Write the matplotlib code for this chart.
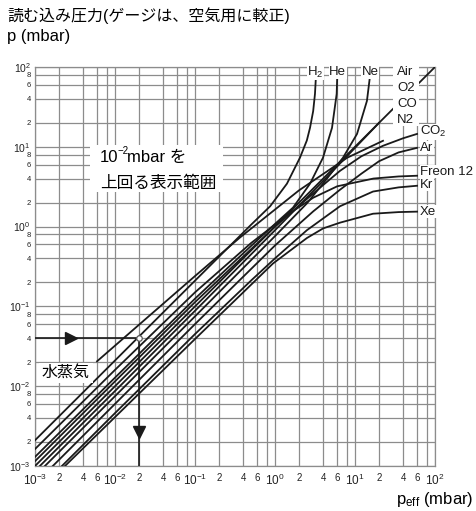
import matplotlib
matplotlib.use("Agg")
import matplotlib.pyplot as plt
import matplotlib.transforms as mtransforms
from matplotlib.patches import Rectangle
from matplotlib.ticker import NullLocator

plt.rcParams['font.family'] = ['Liberation Sans', 'Noto Sans CJK JP']
plt.rcParams['mathtext.fontset'] = 'custom'
plt.rcParams['mathtext.rm'] = 'Liberation Sans'
plt.rcParams['mathtext.it'] = 'Liberation Sans:italic'
plt.rcParams['mathtext.bf'] = 'Liberation Sans:bold'

# effective pressure (mbar) vs. reading of an air-calibrated gauge (mbar)
h2_eff = [1e-3, 1e-2, 1e-1, 0.5, 0.87, 1.41, 2.05, 2.5, 2.74, 3.0, 3.16, 3.25]
h2_ind = [2.1e-3, 2.1e-2, 0.21, 1.05, 1.8, 3.45, 7.3, 12, 17.3, 28, 46, 77]

he_eff = [1e-3, 1e-2, 0.1, 0.5, 1.0, 1.68, 2.74, 3.98, 5.16, 5.9, 6.0]
he_ind = [1.3e-3, 1.28e-2, 0.125, 0.57, 1.08, 1.73, 3.45, 7.3, 17.3, 46, 77]

ne_eff = [1.33e-3, 1e-2, 0.1, 1.0, 2.5, 4.47, 7.08, 10.6, 14.1, 15.4]
ne_ind = [1e-3, 7.5e-3, 7.5e-2, 0.76, 1.95, 4.0, 7.3, 14.5, 37.6, 77]

air_eff = [1e-3, 100]
air_ind = [1e-3, 100]

o2_eff = [1.15e-3, 1e-2, 0.1, 1.0, 5.0, 20]
o2_ind = [1e-3, 8.7e-3, 8.8e-2, 0.9, 4.7, 20]

co2_eff = [1e-3, 1e-2, 0.1, 1.0, 3.0, 6.5, 12, 22.4, 40, 59.6]
co2_ind = [1.15e-3, 1.15e-2, 0.113, 1.0, 2.6, 5.0, 7.6, 10.3, 12.8, 14.5]

ar_eff = [1.67e-3, 1e-2, 0.1, 1.0, 3.0, 6.5, 12, 20, 35, 59.6]
ar_ind = [1e-3, 6e-3, 6e-2, 0.58, 1.55, 2.9, 4.6, 6.6, 8.5, 9.7]

freon_eff = [1e-3, 1e-2, 0.1, 0.5, 1.5, 3.0, 6.0, 17, 35, 59.6]
freon_ind = [1.63e-3, 1.6e-2, 0.15, 0.62, 1.45, 2.3, 3.2, 4.0, 4.25, 4.34]

kr_eff = [2.17e-3, 1e-2, 0.1, 0.5, 1.0, 2.5, 6.5, 16.8, 35, 59.6]
kr_ind = [1e-3, 4.6e-3, 4.5e-2, 0.21, 0.4, 0.9, 1.8, 2.75, 3.1, 3.25]

xe_eff = [2.37e-3, 1e-2, 0.1, 0.365, 0.944, 2.51, 4.0, 6.49, 16.8, 35, 59.6]
xe_ind = [1e-3, 4.1e-3, 0.039, 0.137, 0.345, 0.72, 0.95, 1.12, 1.45, 1.52, 1.54]

water_eff = [5.96e-3, 2e-2, 0.1, 0.365, 2.0, 8.0, 22.4]
water_ind = [2.05e-2, 5.9e-2, 0.24, 0.73, 2.85, 7.3, 11.9]

curves = [(h2_eff, h2_ind), (he_eff, he_ind), (ne_eff, ne_ind),
          (air_eff, air_ind), (o2_eff, o2_ind), (co2_eff, co2_ind),
          (ar_eff, ar_ind), (freon_eff, freon_ind), (kr_eff, kr_ind),
          (xe_eff, xe_ind), (water_eff, water_ind)]

# reading example: 4e-2 indicated -> 2e-2 effective
read_ind = 4e-2
read_eff = 2e-2

decades = [1e-3, 1e-2, 1e-1, 1e0, 1e1, 1e2]
dec_labels = [r'$\mathregular{10^{-3}}$', r'$\mathregular{10^{-2}}$', r'$\mathregular{10^{-1}}$',
              r'$\mathregular{10^{0}}$', r'$\mathregular{10^{1}}$', r'$\mathregular{10^{2}}$']
mults = [2, 4, 6, 8]

fig = plt.figure(figsize=(4.76, 5.11), dpi=100)
ax = fig.add_axes([35/476, 45/511, 400/476, 399/511])
ax.set_xscale('log')
ax.set_yscale('log')
ax.set_xlim(1e-3, 1e2)
ax.set_ylim(1e-3, 1e2)

# grid at 1, 2, 4, 6, 8 per decade
ticks, xlab, ylab, is_dec = [], [], [], []
for i, d in enumerate(decades):
    ticks.append(d)
    xlab.append(dec_labels[i])
    ylab.append(dec_labels[i])
    is_dec.append(True)
    if d < 1e2:
        for m in mults:
            ticks.append(d * m)
            xlab.append('' if m == 8 else str(m))
            ylab.append(str(m))
            is_dec.append(False)

ax.set_xticks(ticks)
ax.set_yticks(ticks)
ax.xaxis.set_minor_locator(NullLocator())
ax.yaxis.set_minor_locator(NullLocator())
ax.set_xticklabels(xlab)
ax.set_yticklabels(ylab)
for lab, big in zip(ax.get_xticklabels(), is_dec):
    lab.set_fontsize(8.5 if big else 7)
    lab.set_color('#222222')
# decade labels on y sit a little above their grid line
lift = mtransforms.ScaledTranslation(0, 3 / 72, fig.dpi_scale_trans)
for lab, big in zip(ax.get_yticklabels(), is_dec):
    lab.set_fontsize(7.5 if big else 5.5)
    lab.set_color('#222222')
    if big:
        lab.set_transform(lab.get_transform() + lift)
ax.tick_params(length=0)
ax.tick_params(axis='x', pad=5)
ax.tick_params(axis='y', pad=3)
ax.grid(True, color='0.55', lw=0.9)
ax.set_axisbelow(True)
for s in ax.spines.values():
    s.set_color('0.55')
    s.set_linewidth(0.9)

for eff, ind in curves:
    ax.plot(eff, ind, color='#1a1a1a', lw=1.3, zorder=3)

# reading example arrows
ax.plot([1e-3, read_eff], [read_ind, read_ind], color='#1a1a1a', lw=1.2, zorder=3)
ax.plot([read_eff, read_eff], [read_ind, 1e-3], color='#1a1a1a', lw=1.2, zorder=3)
ax.plot(2.8e-3, read_ind, marker='>', ms=8, color='#1a1a1a', zorder=4)
ax.plot(read_eff, 2.7e-3, marker='v', ms=8, color='#1a1a1a', zorder=4)
ax.plot(read_eff, read_ind, 'o', mfc='white', mec='0.35', ms=4, mew=0.9, zorder=5)

# white column behind the Air / O2 / CO / N2 names
ax.add_patch(Rectangle(((393 - 35) / 400, (466 - 126) / 399), 26 / 400, 64 / 399,
                       transform=ax.transAxes, fc='white', ec='none', zorder=5,
                       clip_on=False))

# gas names
box = dict(fc='white', ec='none', pad=0.4)
lab_kw = dict(fontsize=9.5, va='center', bbox=box, zorder=6, clip_on=False, color='#1a1a1a')
ax.text(3.2, 86.6, 'H$_2$', ha='center', **lab_kw)
ax.text(6.1, 86.6, 'He', ha='center', **lab_kw)
ax.text(15.4, 86.6, 'Ne', ha='center', **lab_kw)
ax.text(33.5, 86.6, 'Air', ha='left', **lab_kw)
ax.text(33.5, 54.6, 'O2', ha='left', **lab_kw)
ax.text(33.5, 34.5, 'CO', ha='left', **lab_kw)
ax.text(33.5, 21.8, 'N2', ha='left', **lab_kw)
ax.text(65, 15.4, 'CO$_2$', ha='left', **lab_kw)
ax.text(65, 9.7, 'Ar', ha='left', **lab_kw)
ax.text(65, 4.87, 'Freon 12', ha='left', **lab_kw)
ax.text(65, 3.35, 'Kr', ha='left', **lab_kw)
ax.text(65, 1.54, 'Xe', ha='left', **lab_kw)

ax.text((66 - 35) / 400, (466 - 373) / 399, '水蒸気', transform=ax.transAxes,
        fontsize=11.5, ha='center', va='center', zorder=6,
        bbox=dict(fc='white', ec='none', pad=2))

# range note
ax.add_patch(Rectangle(((90 - 35) / 400, (466 - 192) / 399), 133 / 400, 47 / 399,
                       transform=ax.transAxes, fc='white', ec='none', zorder=2))
note_y1 = (466 - 157) / 399
ax.text((100 - 35) / 400, note_y1, '10', transform=ax.transAxes,
        fontsize=12, ha='left', va='center', zorder=6)
ax.text((117 - 35) / 400, note_y1 + 6 / 399, '\u22122', transform=ax.transAxes,
        fontsize=7, ha='left', va='center', zorder=6)
ax.text((127 - 35) / 400, note_y1, 'mbar を', transform=ax.transAxes,
        fontsize=12, ha='left', va='center', zorder=6)
ax.text((100 - 35) / 400, (466 - 183) / 399, '上回る表示範囲', transform=ax.transAxes,
        fontsize=12, ha='left', va='center', zorder=6)

fig.text(7/476, 1 - 16/511, '読む込み圧力(ゲージは、空気用に較正)', fontsize=11.5, va='center')
fig.text(7/476, 1 - 37/511, 'p (mbar)', fontsize=12, va='center')
fig.text(473/476, 1 - 499/511, r'p$_{\mathregular{eff}}$ (mbar)', fontsize=12, ha='right', va='center')

fig.savefig('out.png', dpi=100)
